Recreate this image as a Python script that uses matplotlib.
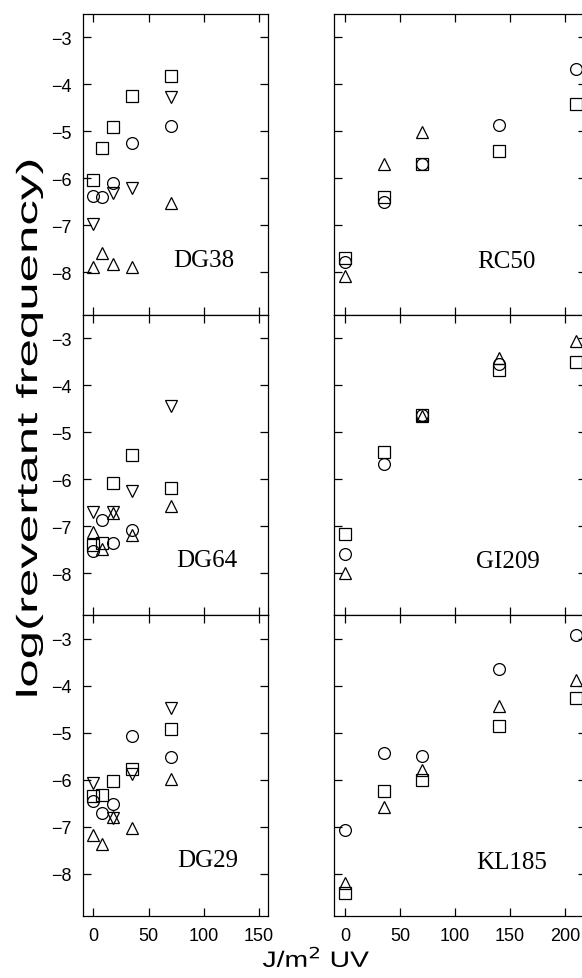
import numpy as np
import matplotlib
matplotlib.use("Agg")
import matplotlib.pyplot as plt
from matplotlib.patheffects import AbstractPathEffect
from matplotlib.transforms import Affine2D

nan = np.nan

# doses (J/m^2 UV)
dose_left = [0, 8, 17.5, 35, 70]
dose_right = [0, 35, 70, 140, 210]

# panel names
strains = ["DG38", "RC50", "DG64", "GI209", "DG29", "KL185"]

# log(revertant frequency) series per panel: square, circle, triangle-up, triangle-down
DG38_square = [-6.03, -5.36, -4.91, -4.25, -3.81]
DG38_circle = [-6.37, -6.39, -6.09, -5.24, -4.88]
DG38_tri_up = [-7.89, -7.58, -7.82, -7.88, -6.53]
DG38_tri_down = [-6.96, nan, -6.31, -6.21, -4.26]

RC50_square = [-7.69, -6.39, -5.70, -5.41, -4.41]
RC50_circle = [-7.78, -6.50, -5.70, -4.86, -3.68]
RC50_tri_up = [-8.07, -5.69, -5.01, nan, nan]

DG64_square = [-7.41, -7.37, -6.09, -5.48, -6.19]
DG64_circle = [-7.54, -6.88, -7.37, -7.09, nan]
DG64_tri_up = [-7.12, -7.48, -6.72, -7.18, -6.57]
DG64_tri_down = [-6.70, nan, -6.71, -6.25, -4.44]

GI209_square = [-7.16, -5.43, -4.64, -3.68, -3.50]
GI209_circle = [-7.60, -5.67, -4.64, -3.55, nan]
GI209_tri_up = [-7.99, nan, -4.66, -3.42, -3.06]

DG29_square = [-6.34, -6.33, -6.02, -5.77, -4.92]
DG29_circle = [-6.46, -6.70, -6.51, -5.06, -5.52]
DG29_tri_up = [-7.17, -7.36, -6.80, -7.02, -5.98]
DG29_tri_down = [-6.06, nan, -6.82, -5.87, -4.47]

KL185_square = [-8.40, -6.23, -6.01, -4.86, -4.26]
KL185_circle = [-7.07, -5.43, -5.50, -3.64, -2.91]
KL185_tri_up = [-8.19, -6.57, -5.79, -4.42, -3.87]

panels = [
    ("DG38", dose_left, {"s": DG38_square, "o": DG38_circle, "^": DG38_tri_up, "v": DG38_tri_down}),
    ("RC50", dose_right, {"s": RC50_square, "o": RC50_circle, "^": RC50_tri_up}),
    ("DG64", dose_left, {"s": DG64_square, "o": DG64_circle, "^": DG64_tri_up, "v": DG64_tri_down}),
    ("GI209", dose_right, {"s": GI209_square, "o": GI209_circle, "^": GI209_tri_up}),
    ("DG29", dose_left, {"s": DG29_square, "o": DG29_circle, "^": DG29_tri_up, "v": DG29_tri_down}),
    ("KL185", dose_right, {"s": KL185_square, "o": KL185_circle, "^": KL185_tri_up}),
]

label_pos = {"DG38": (100, -7.87), "RC50": (147, -7.89), "DG64": (103, -7.84),
             "GI209": (148, -7.88), "DG29": (104, -7.84), "KL185": (151.5, -7.88)}


class Stretch(AbstractPathEffect):
    """Stretch drawn text about a fixed display point (text stays a Text artist)."""

    def __init__(self, cx, cy, sx=1.0, sy=1.0):
        super().__init__()
        self.cx, self.cy, self.sx, self.sy = cx, cy, sx, sy

    def draw_path(self, renderer, gc, tpath, affine, rgbFace=None):
        t = Affine2D().translate(-self.cx, -self.cy).scale(self.sx, self.sy).translate(self.cx, self.cy)
        renderer.draw_path(gc, tpath, affine + t, rgbFace)


W, H = 582, 979
fig = plt.figure(figsize=(W / 100, H / 100), dpi=100)

top_px, bot_px = 15, 917
panel_h = (bot_px - top_px) / 3
left_ax = (83, 268)
right_ax = (334, 586)
xlims = {"left": (-9.5, 158.5), "right": (-10, 219)}

msizes = {"s": 8, "o": 8.5, "^": 9, "v": 9}

for i, (name, dose, series) in enumerate(panels):
    row, col = divmod(i, 2)
    x0, x1 = left_ax if col == 0 else right_ax
    y_top = top_px + row * panel_h
    rect = [x0 / W, 1 - (y_top + panel_h) / H, (x1 - x0) / W, panel_h / H]
    ax = fig.add_axes(rect)
    for mk, vals in series.items():
        ax.plot(dose, vals, linestyle="none", marker=mk, ms=msizes[mk],
                mfc="none", mec="black", mew=0.9, clip_on=False)
    ax.set_xlim(*(xlims["left"] if col == 0 else xlims["right"]))
    ax.set_ylim(-8.9, -2.5)
    ax.set_yticks([-8, -7, -6, -5, -4, -3])
    if col == 0:
        ax.set_xticks([0, 50, 100, 150])
    else:
        ax.set_xticks([0, 50, 100, 150, 200])
    ax.tick_params(direction="in", length=6, width=0.9, top=True, right=True,
                   labelsize=13, pad=8)
    for lab in ax.get_xticklabels() + ax.get_yticklabels():
        lab.set_fontfamily("Liberation Sans")
    if col == 1:
        ax.tick_params(labelleft=False)
    if row < 2:
        ax.tick_params(labelbottom=False)
    for sp in ax.spines.values():
        sp.set_linewidth(0.9)
    lx, ly = label_pos[name]
    ax.text(lx, ly, name, ha="center", va="baseline", fontsize=18,
            family="Liberation Serif")

# axis titles (stretched along their reading direction like the reference)
ycx, ycy = 29, H - 429
ylab = fig.text(ycx / W, ycy / H, "log(revertant frequency)", rotation=90,
                ha="center", va="center", fontsize=21, family="Liberation Sans")
xcx, xcy = 317, H - 968
xlab = fig.text(xcx / W, xcy / H, "J/m$^2$ UV", ha="center", va="baseline",
                fontsize=16, family="Liberation Sans")

fig.canvas.draw()
r = fig.canvas.get_renderer()
yb = ylab.get_window_extent(r)
xb = xlab.get_window_extent(r)
ylab.set_path_effects([Stretch(ycx, (yb.y0 + yb.y1) / 2, 1.0, 542 / yb.height)])
xlab.set_path_effects([Stretch((xb.x0 + xb.x1) / 2, xcy, 109 / xb.width, 1.0)])

fig.savefig("out.png", dpi=100)
